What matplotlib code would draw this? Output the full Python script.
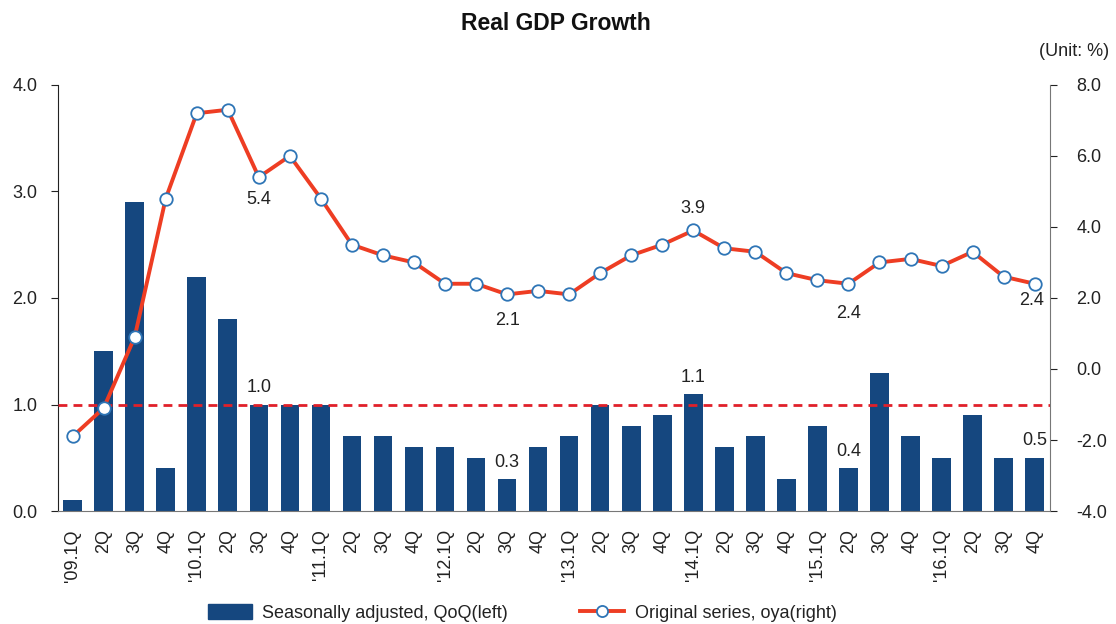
import matplotlib.pyplot as plt
import numpy as np

plt.rcParams['font.family'] = ['Liberation Sans', 'DejaVu Sans']

# quarters '09.1Q .. '16.4Q
quarters = ["'09.1Q", "2Q", "3Q", "4Q",
            "'10.1Q", "2Q", "3Q", "4Q",
            "'11.1Q", "2Q", "3Q", "4Q",
            "'12.1Q", "2Q", "3Q", "4Q",
            "'13.1Q", "2Q", "3Q", "4Q",
            "'14.1Q", "2Q", "3Q", "4Q",
            "'15.1Q", "2Q", "3Q", "4Q",
            "'16.1Q", "2Q", "3Q", "4Q"]

# seasonally adjusted, QoQ (left axis)
qoq = [0.1, 1.5, 2.9, 0.4,
       2.2, 1.8, 1.0, 1.0,
       1.0, 0.7, 0.7, 0.6,
       0.6, 0.5, 0.3, 0.6,
       0.7, 1.0, 0.8, 0.9,
       1.1, 0.6, 0.7, 0.3,
       0.8, 0.4, 1.3, 0.7,
       0.5, 0.9, 0.5, 0.5]

# original series, oya (right axis)
oya = [-1.9, -1.1, 0.9, 4.8,
       7.2, 7.3, 5.4, 6.0,
       4.8, 3.5, 3.2, 3.0,
       2.4, 2.4, 2.1, 2.2,
       2.1, 2.7, 3.2, 3.5,
       3.9, 3.4, 3.3, 2.7,
       2.5, 2.4, 3.0, 3.1,
       2.9, 3.3, 2.6, 2.4]

ref_level = 1.0

bar_color = '#15477f'
line_color = '#ee3d23'
marker_edge = '#2e75b6'
txt = '#222222'
fs = 13

x = np.arange(len(quarters))

fig = plt.figure(figsize=(11.16, 6.24), dpi=100)
ax = fig.add_axes([0.052, 0.181, 0.889, 0.683])
ax2 = ax.twinx()

ax.bar(x, qoq, width=0.6, color=bar_color, zorder=2)
ax.axhline(ref_level, color='#e0202a', lw=2, ls=(0, (3.2, 2.2)), zorder=3)

ax2.plot(x, oya, color=line_color, lw=2.8, marker='o', ms=9,
         mfc='white', mec=marker_edge, mew=1.3, zorder=4)

ax.set_xlim(-0.47, 31.5)
ax.set_ylim(0, 4)
ax2.set_ylim(-4, 8)
ax.set_yticks(np.arange(0, 4.1, 1))
ax.set_yticklabels(['%.1f' % v for v in np.arange(0, 4.1, 1)])
ax2.set_yticks(np.arange(-4, 8.1, 2))
ax2.set_yticklabels(['%.1f' % v for v in np.arange(-4, 8.1, 2)])

ax.set_xticks(x)
ax.set_xticklabels(quarters, rotation=90, va='top', ha='center')
ax.tick_params(axis='x', length=0, pad=13, labelsize=fs, colors=txt)
ax.tick_params(axis='y', length=5, pad=10, labelsize=fs, colors=txt)
ax2.tick_params(axis='y', length=5, pad=14, labelsize=fs, colors=txt)

for a in (ax, ax2):
    a.spines['top'].set_visible(False)
ax.spines['left'].set_color('#222222')
ax.spines['bottom'].set_color('#777777')
ax.spines['right'].set_visible(False)
ax2.spines['left'].set_visible(False)
ax2.spines['bottom'].set_visible(False)
ax2.spines['right'].set_color('#777777')

# bar labels
for i in [6, 14, 20, 25, 31]:
    ax.annotate('%.1f' % qoq[i], (x[i], qoq[i]), xytext=(0, 6),
                textcoords='offset points', ha='center', va='bottom',
                fontsize=fs, color=txt)

# line labels
for i, dy in [(6, -10), (14, -13), (20, 10), (25, -15)]:
    ax2.annotate('%.1f' % oya[i], (x[i], oya[i]), xytext=(0, dy),
                 textcoords='offset points', ha='center',
                 va='top' if dy < 0 else 'bottom', fontsize=fs, color=txt)
ax2.annotate('%.1f' % oya[31], (x[31], oya[31]), xytext=(-2, -6),
             textcoords='offset points', ha='center', va='top',
             fontsize=fs, color=txt)

fig.text(0.498, 0.963, 'Real GDP Growth', ha='center', va='center',
         fontsize=16.5, fontweight='bold', color='#111111')
fig.text(0.994, 0.918, '(Unit: %)', ha='right', va='center', fontsize=fs, color=txt)

h1 = plt.Rectangle((0, 0), 1, 1, color=bar_color)
h2 = plt.Line2D([], [], color=line_color, lw=2.8, marker='o', ms=8,
                mfc='white', mec=marker_edge, mew=1.3)
fig.legend([h1, h2], ['Seasonally adjusted, QoQ(left)', 'Original series, oya(right)'],
           loc='center', bbox_to_anchor=(0.468, 0.018), ncol=2, frameon=False,
           fontsize=fs, handlelength=2.4, handleheight=0.9, columnspacing=4.0,
           handletextpad=0.6, labelcolor=txt)

fig.savefig('out.png', dpi=100)
